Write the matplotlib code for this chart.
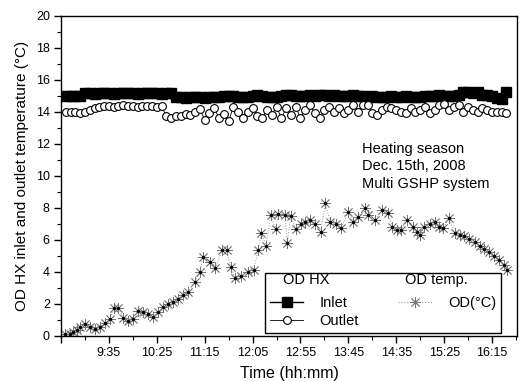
import numpy as np
import matplotlib
matplotlib.use("Agg")
import matplotlib.pyplot as plt
from matplotlib.lines import Line2D

plt.rcParams['font.family'] = ['Liberation Sans', 'DejaVu Sans']

# OD HX inlet / outlet, logged every 5 min from 08:50
hx_start = "8:50"
hx_step = 5
inlet = [14.95, 14.95, 15.0, 15.0,
         15.15, 15.15, 15.1, 15.15, 15.15, 15.15, 15.1, 15.15, 15.15, 15.15,
         15.15, 15.1, 15.15, 15.15, 15.15, 15.15, 15.1, 15.15, 15.15,
         14.9, 14.9, 14.85, 14.9, 14.9, 14.9, 14.85, 14.9, 14.9, 14.9,
         15.0, 15.0, 15.0,
         14.9, 14.9, 14.9,
         15.0, 15.05, 15.0,
         14.9, 14.9, 14.9, 14.95,
         15.05, 15.05, 15.0,
         15.0, 15.0, 15.05, 15.0, 15.05, 15.05, 15.0, 15.05, 15.0, 15.0,
         15.0, 15.05, 15.0, 14.95,
         14.9, 14.95, 14.9, 14.9, 14.9, 14.95, 14.9, 14.9, 14.95, 14.9,
         14.9, 14.9, 14.95,
         15.0, 15.0, 15.05, 15.0, 15.0, 15.0, 15.05,
         15.2, 15.2, 15.15, 15.2,
         15.05, 15.05, 15.0, 14.85, 14.8, 15.2]
outlet = [13.95, 13.95, 14.0, 13.9, 14.0,
          14.1, 14.2, 14.3,
          14.35, 14.35, 14.3, 14.35, 14.4, 14.35, 14.35, 14.3, 14.35, 14.35,
          14.35, 14.3, 14.35,
          13.7, 13.6, 13.75, 13.7, 13.85, 13.8, 13.95, 14.15, 13.5, 13.9,
          14.2, 13.6, 13.85, 13.4, 14.3, 14.0, 13.6, 13.95, 14.25, 13.7,
          13.6, 14.1, 13.8, 14.3, 13.6, 14.2, 13.8, 14.3, 13.6, 14.1,
          14.4, 13.9, 13.6, 14.1, 14.3, 14.0, 14.2, 13.9, 14.1, 14.4,
          14.0, 14.4, 14.4, 13.9, 13.8, 14.1, 14.3, 14.2, 14.1, 14.0,
          13.9, 14.2, 14.0, 14.1, 14.3, 13.9, 14.1, 14.4, 14.5, 14.1,
          14.3, 14.4, 14.0, 14.3, 14.1, 14.0, 14.2, 14.1, 14.0, 14.0,
          13.95, 13.9]

# outdoor air temperature readings
od_times = ["8:49", "8:54", "8:58", "9:02", "9:05", "9:10", "9:15", "9:21",
            "9:26", "9:31", "9:36", "9:40", "9:45", "9:50", "9:55", "10:00",
            "10:05", "10:11", "10:16", "10:21", "10:26", "10:32", "10:37",
            "10:42", "10:47", "10:52", "10:58", "11:05", "11:10", "11:13",
            "11:21", "11:26", "11:33", "11:38", "11:42", "11:47", "11:53",
            "12:00", "12:06", "12:11", "12:14", "12:19", "12:24", "12:29",
            "12:32", "12:39", "12:41", "12:45", "12:50", "12:56", "13:00",
            "13:05", "13:10", "13:16", "13:21", "13:26", "13:32", "13:37",
            "13:45", "13:50", "13:55", "14:02", "14:05", "14:13", "14:20",
            "14:26", "14:31", "14:36", "14:40", "14:46", "14:52", "14:57",
            "15:00", "15:04", "15:10", "15:15", "15:20", "15:24", "15:30",
            "15:36", "15:41", "15:46", "15:51", "15:57", "16:02", "16:07",
            "16:12", "16:17", "16:22", "16:27", "16:31"]
od_temp = [0.1, 0.1, 0.2, 0.35, 0.55, 0.7, 0.55, 0.4, 0.55, 0.76, 1.03,
           1.7, 1.74, 1.11, 0.9, 1.03, 1.53, 1.49, 1.33, 1.18, 1.45, 1.8,
           2.0, 2.1, 2.3, 2.53, 2.74, 3.36, 4.0, 4.93, 4.6, 4.2, 5.34, 5.34,
           4.3, 3.6, 3.7, 4.0, 4.1, 5.34, 6.39, 5.6, 7.53, 6.64, 7.6, 7.53,
           5.76, 7.5, 6.64, 7.0, 7.1, 7.2, 7.0, 6.5, 8.26, 7.1, 7.0, 6.7,
           7.74, 7.1, 7.4, 7.95, 7.53, 7.2, 7.84, 7.64, 6.8, 6.6, 6.6, 7.2,
           6.8, 6.5, 6.28, 6.8, 7.0, 7.1, 6.8, 6.7, 7.35, 6.4, 6.3, 6.2,
           6.05, 5.85, 5.6, 5.4, 5.2, 5.0, 4.75, 4.4, 4.1]

tick_labels = ["", "9:35", "10:25", "11:15", "12:05", "12:55", "13:45",
               "14:35", "15:25", "16:15"]


def to_min(s):
    h, m = s.split(":")
    return int(h) * 60 + int(m)


hx_t = to_min(hx_start) + hx_step * np.arange(len(inlet))
od_t = np.array([to_min(s) for s in od_times])

fig = plt.figure(figsize=(5.27, 3.82), dpi=100)
ax = fig.add_axes([0.1157, 0.1217, 0.8653, 0.8373])

star = (8, 2, 0)
ax.plot(od_t, od_temp, ls=':', color='#999999', lw=0.7, marker=star,
        ms=8, mec='#777777', mew=0.6, zorder=2)
ax.plot(od_t, od_temp, ls='none', marker='o', ms=1.4, color='black', zorder=3)
ax.plot(hx_t, inlet, color='black', lw=1, marker='s', ms=6.5,
        mfc='black', mec='black', zorder=4)
ax.plot(hx_t, outlet, color='black', lw=0.6, marker='o', ms=5.6,
        mfc='white', mec='black', mew=0.8, zorder=5)

ax.set_xlim(525, 1001)
ax.set_ylim(0, 20)
major = [to_min("8:45") + 50 * k for k in range(len(tick_labels))]
ax.set_xticks(major)
ax.set_xticklabels(tick_labels)
ax.set_xticks([m + 25 for m in major], minor=True)
ax.set_yticks(np.arange(0, 21, 2))
ax.set_yticks(np.arange(1, 20, 2), minor=True)
ax.tick_params(which='major', direction='out', length=5, width=1,
               labelsize=9, pad=3)
ax.tick_params(which='minor', direction='out', length=3, width=0.8)
for sp in ax.spines.values():
    sp.set_linewidth(1)

ax.set_xlabel("Time (hh:mm)", fontsize=11.5, labelpad=5)
ax.set_ylabel("OD HX inlet and outlet temperature (\u00b0C)", fontsize=11,
              labelpad=5)

ax.text(0.66, 0.605, "Heating season\nDec. 15th, 2008\nMulti GSHP system",
        transform=ax.transAxes, fontsize=10.5, linespacing=1.3,
        ha='left', va='top')

blank = Line2D([], [], ls='none')
h_in = Line2D([], [], color='black', lw=1, marker='s', ms=6.5)
h_out = Line2D([], [], color='black', lw=0.6, marker='o', ms=5.6,
               mfc='white', mew=0.8)
h_od = Line2D([], [], color='#999999', ls=':', lw=0.8, marker=star, ms=8,
              mec='#777777', mew=0.6)
leg = ax.legend([blank, h_in, h_out, blank, h_od, blank],
                [" ", "Inlet", "Outlet", " ", "OD(\u00b0C)", " "],
                ncol=2, loc='lower left',
                bbox_to_anchor=(0.447, 0.008), borderaxespad=0,
                fontsize=10.5, frameon=True, fancybox=False, framealpha=1,
                edgecolor='black', handlelength=2.3, handletextpad=1.1,
                labelspacing=0.25, borderpad=0.35, columnspacing=2.7)
leg.get_frame().set_linewidth(1)
leg.set_zorder(10)

ax.text(0.487, 0.1735, "OD HX", transform=ax.transAxes, fontsize=10.5,
        ha='left', va='center', zorder=11)
ax.text(0.754, 0.1735, "OD temp.", transform=ax.transAxes, fontsize=10.5,
        ha='left', va='center', zorder=11)

fig.savefig("out.png", dpi=100)
